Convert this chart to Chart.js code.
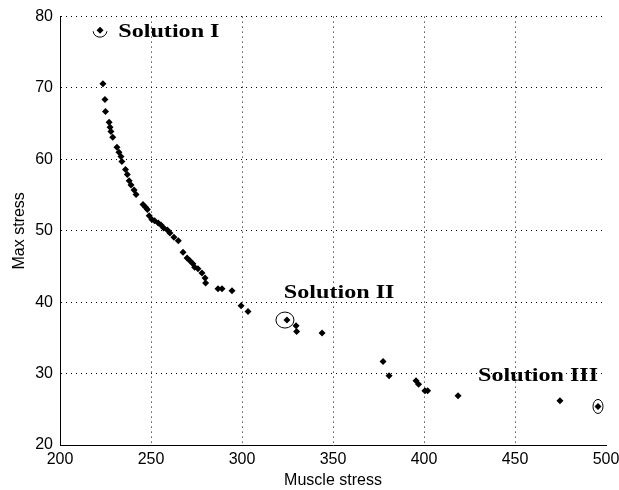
<!DOCTYPE html>
<html>
<head>
<meta charset="utf-8">
<script src="https://cdn.jsdelivr.net/npm/chart.js@4.4.0/dist/chart.umd.min.js"></script>
<style>
  html, body { margin: 0; padding: 0; background: #fff; }
  #wrap { width: 619px; height: 490px; }
</style>
</head>
<body>
<div id="wrap"><canvas id="paretoChart"></canvas></div>
<script>
// pareto front points (muscle stress, max stress)
const muscleStress = [
  223.6, 224.7, 225, 227, 227.5, 228, 229, 231.3, 232.4, 233.5, 234, 236, 237, 238, 239,
  240.7, 241.8, 245.6, 247, 248, 249, 250.5, 252, 254, 255.5, 257, 259, 260.4, 262.6,
  265, 267.6, 269.8, 271.4, 273, 274, 275.8, 278, 279.7, 280, 286.8, 289, 294.5, 299.5,
  303.3, 324.7, 329.7, 330, 344, 377.5, 380.8, 395.6, 397, 400.5, 402, 418.7, 474.7, 495.6, 222
];
const maxStress = [
  70.6, 68.4, 66.7, 65.2, 64.5, 63.9, 63.1, 61.7, 61, 60.4, 59.7, 58.6, 57.9, 57, 56.4,
  55.7, 55.1, 53.7, 53.3, 53, 52.1, 51.6, 51.4, 51.1, 50.8, 50.4, 50.1, 49.7, 49.1,
  48.6, 47, 46.2, 45.8, 45.4, 44.9, 44.7, 44.1, 43.4, 42.7, 41.9, 41.9, 41.6, 39.5,
  38.7, 37.5, 36.7, 35.9, 35.7, 31.7, 29.7, 29, 28.5, 27.6, 27.6, 26.9, 26.2, 25.4, 78.1
];

// highlighted solutions
const solutionNames = ['Solution I', 'Solution II', 'Solution III'];
const solutionX = [222, 324.7, 495.6];
const solutionY = [78.1, 37.5, 25.4];
const labelX = [232, 323, 429.7];
const labelY = [77.1, 40.6, 28.9];

const xTicks = [200, 250, 300, 350, 400, 450, 500];
const yTicks = [20, 30, 40, 50, 60, 70, 80];

const points = muscleStress.map((v, i) => ({ x: v, y: maxStress[i] }));

const sansFont = '"Liberation Sans", Arial, sans-serif';

// text labels + the hand-drawn rings round the chosen solutions
const solutionMarks = {
  id: 'solutionMarks',
  afterDatasetsDraw(chart) {
    const { ctx, scales } = chart;
    ctx.save();
    ctx.strokeStyle = '#000';
    ctx.lineWidth = 1;
    // ring shapes: [rx, ry, dx, start, end]
    const rings = [[7, 7, 0, 0.05 * Math.PI, 0.95 * Math.PI], [9, 8, -2, 0, 2 * Math.PI], [5, 7, 0, 0, 2 * Math.PI]];
    solutionX.forEach((v, i) => {
      const px = scales.x.getPixelForValue(v);
      const py = scales.y.getPixelForValue(solutionY[i]);
      const r = rings[i];
      ctx.beginPath();
      ctx.ellipse(px + r[2], py, r[0], r[1], 0, r[3], r[4]);
      ctx.stroke();
    });

    ctx.font = 'bold 19px "Liberation Serif", "Times New Roman", serif';
    ctx.fillStyle = '#000';
    ctx.textBaseline = 'alphabetic';
    ctx.textAlign = 'left';
    solutionNames.forEach((name, i) => {
      const px = scales.x.getPixelForValue(labelX[i]);
      const py = scales.y.getPixelForValue(labelY[i]);
      ctx.save();
      ctx.translate(px, py);
      ctx.scale(1.27, 1);
      ctx.fillText(name, 0, 0);
      ctx.restore();
    });
    ctx.restore();
  }
};

new Chart(document.getElementById('paretoChart'), {
  type: 'scatter',
  data: {
    datasets: [
      {
        data: points,
        pointStyle: 'rectRot',
        pointRadius: 3.5,
        backgroundColor: '#000',
        borderColor: '#000',
        borderWidth: 0
      }
    ]
  },
  options: {
    responsive: true,
    maintainAspectRatio: false,
    animation: false,
    layout: { padding: { top: 6, right: 13, left: 0, bottom: 0 } },
    plugins: { legend: { display: false }, tooltip: { enabled: false } },
    scales: {
      x: {
        type: 'linear',
        min: 200, max: 500,
        afterBuildTicks: s => { s.ticks = xTicks.map(v => ({ value: v })); },
        afterFit: s => { s.height = 45; s.paddingRight = 0; s.paddingLeft = 0; },
        grid: {
          color: c => (c.tick && c.tick.value === 500 ? 'rgba(0,0,0,0)' : '#000'),
          drawTicks: false, lineWidth: 1
        },
        border: { display: true, color: '#000', width: 1, dash: [1, 4] },
        ticks: { color: '#000', padding: 5, font: { family: sansFont, size: 16 } },
        title: { display: true, text: 'Muscle stress', color: '#000', padding: 0,
                 font: { family: sansFont, size: 16 } }
      },
      y: {
        type: 'linear',
        min: 20, max: 80,
        afterBuildTicks: s => { s.ticks = yTicks.map(v => ({ value: v })); },
        afterFit: s => { s.width = 60; },
        grid: { color: '#000', drawTicks: false, lineWidth: 1 },
        border: { display: true, color: '#000', width: 1, dash: [1, 4] },
        ticks: { color: '#000', padding: 7, font: { family: sansFont, size: 16 } },
        title: { display: true, text: 'Max stress', color: '#000', padding: { top: 10, bottom: 0 },
                 font: { family: sansFont, size: 16 } }
      }
    }
  },
  plugins: [solutionMarks]
});
</script>
</body>
</html>
